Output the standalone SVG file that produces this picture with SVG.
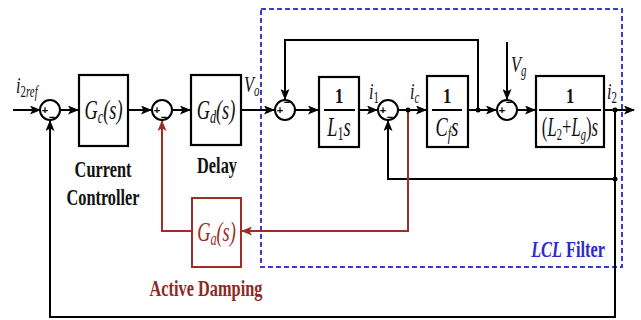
<svg xmlns="http://www.w3.org/2000/svg" width="641" height="320" viewBox="0 0 641 320">
<defs>
<marker id="ab" markerUnits="userSpaceOnUse" markerWidth="11" markerHeight="9" refX="10" refY="4.5" orient="auto"><path d="M0,0 L11,4.5 L0,9 L2.5,4.5 z" fill="#000"/></marker>
<marker id="ar" markerUnits="userSpaceOnUse" markerWidth="11" markerHeight="9" refX="10" refY="4.5" orient="auto"><path d="M0,0 L11,4.5 L0,9 L2.5,4.5 z" fill="#9b2f24"/></marker>
<style>
.ln{fill:none;stroke:#000;stroke-width:2}
.rl{fill:none;stroke:#9b2f24;stroke-width:2}
.box{fill:#fff;stroke:#000;stroke-width:2.2}
.rbox{fill:#fff;stroke:#9b2f24;stroke-width:2}
.sum{fill:#fff;stroke:#000;stroke-width:2}
.t{font-family:"Liberation Serif","DejaVu Serif",serif;font-weight:bold;font-size:24px;fill:#111}
.m{font-family:"Liberation Serif","DejaVu Serif",serif;font-style:italic;font-size:27px;fill:#111}
.lb{font-size:24px}
.one{font-family:"Liberation Serif","DejaVu Serif",serif;font-weight:bold;font-size:22px;fill:#111;text-anchor:middle}
.n{font-style:normal}
.op{font-family:"Liberation Sans",Arial,sans-serif;font-size:11px;font-weight:bold;fill:#000;text-anchor:middle}
.dot{fill:#000}
</style>
</defs>
<rect width="641" height="320" fill="#fff"/>

<!-- LCL filter boundary -->
<g id="lcl-boundary">
<rect x="261" y="9" width="361" height="258" fill="none" stroke="#3a3ad8" stroke-width="2" stroke-dasharray="5,3"/>
<text class="t" transform="translate(605 257) scale(0.68 1)" text-anchor="end" style="fill:#2a2ad0"><tspan font-style="italic">LCL</tspan> Filter</text>
</g>

<g id="connectors">
<path class="ln" d="M13,110 H40" marker-end="url(#ab)"/>
<path class="ln" d="M60,110 H78" marker-end="url(#ab)"/>
<path class="ln" d="M128,110 H151" marker-end="url(#ab)" stroke-width="2.6"/>
<path class="ln" d="M172,110 H190" marker-end="url(#ab)"/>
<path class="ln" d="M241,110 H274" marker-end="url(#ab)"/>
<path class="ln" d="M295,110 H318" marker-end="url(#ab)"/>
<path class="ln" d="M359,110 H377" marker-end="url(#ab)"/>
<path class="ln" d="M398,110 H426" marker-end="url(#ab)"/>
<path class="ln" d="M468,110 H496" marker-end="url(#ab)"/>
<path class="ln" d="M478,110 V40 H285 V99" marker-end="url(#ab)"/>
<path class="ln" d="M507,42 V99" marker-end="url(#ab)"/>
<path class="ln" d="M517,110 H535" marker-end="url(#ab)"/>
<path class="ln" d="M604,110 H634" marker-end="url(#ab)"/>
<path class="ln" d="M615,110 V317 H50 V121" marker-end="url(#ab)"/>
<path class="ln" d="M615,179 H388 V121" marker-end="url(#ab)"/>
<path class="rl" d="M408,110 V231 H242" marker-end="url(#ar)"/>
<path class="rl" d="M192,231 H162 V121" marker-end="url(#ar)"/>
<circle class="dot" cx="408" cy="110" r="2.5"/>
<circle class="dot" cx="478" cy="110" r="2.5"/>
<circle class="dot" cx="615" cy="110" r="2.5"/>
<circle class="dot" cx="615" cy="179" r="2.5"/>
</g>

<g id="labels">
<text class="m lb" transform="translate(16 93) scale(0.68 1)">i<tspan class="n" font-size="16" dy="4">2</tspan><tspan font-size="16">ref</tspan></text>
<text class="m lb" transform="translate(244 92) scale(0.68 1)">V<tspan font-size="16" dy="4">o</tspan></text>
<text class="m lb" transform="translate(369 99) scale(0.68 1)">i<tspan class="n" font-size="16" dy="4">1</tspan></text>
<text class="m lb" transform="translate(410 99) scale(0.68 1)">i<tspan font-size="16" dy="4">c</tspan></text>
<text class="m lb" transform="translate(511 72) scale(0.68 1)">V<tspan font-size="16" dy="4">g</tspan></text>
<text class="m lb" transform="translate(607 99) scale(0.68 1)">i<tspan class="n" font-size="16" dy="4">2</tspan></text>
</g>

<g id="sum1"><circle class="sum" cx="50" cy="110" r="10"/><text class="op" x="45" y="114">+</text><text class="op" x="52" y="121">−</text></g>
<g id="sum2"><circle class="sum" cx="162" cy="110" r="10"/><text class="op" x="157" y="114">+</text><text class="op" x="164" y="121">−</text></g>
<g id="sum3"><circle class="sum" cx="285" cy="110" r="10"/><text class="op" x="280" y="114">+</text><text class="op" x="287" y="106">−</text></g>
<g id="sum4"><circle class="sum" cx="388" cy="110" r="10"/><text class="op" x="383" y="114">+</text><text class="op" x="390" y="121">−</text></g>
<g id="sum5"><circle class="sum" cx="507" cy="110" r="10"/><text class="op" x="502" y="114">+</text><text class="op" x="509" y="106">−</text></g>

<g id="current-controller">
<rect class="box" x="79" y="75" width="49" height="71"/>
<text class="m" transform="translate(103.5 119) scale(0.68 1)" text-anchor="middle">G<tspan font-size="18" dy="4">c</tspan><tspan dy="-4">(s)</tspan></text>
<text class="t" transform="translate(103 177) scale(0.68 1)" text-anchor="middle">Current</text>
<text class="t" transform="translate(103 205) scale(0.68 1)" text-anchor="middle">Controller</text>
</g>

<g id="delay">
<rect class="box" x="191" y="75" width="50" height="70"/>
<text class="m" transform="translate(216 119) scale(0.68 1)" text-anchor="middle">G<tspan font-size="18" dy="4">d</tspan><tspan dy="-4">(s)</tspan></text>
<text class="t" transform="translate(217 173) scale(0.68 1)" text-anchor="middle">Delay</text>
</g>

<g id="active-damping">
<rect class="rbox" x="192" y="198" width="49" height="69"/>
<text class="m" transform="translate(216.5 241) scale(0.68 1)" text-anchor="middle" style="fill:#9b2f24">G<tspan font-size="18" dy="4">a</tspan><tspan dy="-4">(s)</tspan></text>
<text class="t" transform="translate(206 296) scale(0.68 1)" text-anchor="middle" style="fill:#8e2a20">Active Damping</text>
</g>

<g id="L1">
<rect class="box" x="319" y="77" width="40" height="70"/>
<text class="one" transform="translate(339 103) scale(0.75 1)">1</text>
<line x1="324" y1="110" x2="355" y2="110" stroke="#000" stroke-width="2"/>
<text class="m" transform="translate(339 136) scale(0.68 1)" text-anchor="middle">L<tspan class="n" font-size="18" dy="4">1</tspan><tspan dy="-4">s</tspan></text>
</g>

<g id="Cf">
<rect class="box" x="427" y="76" width="41" height="71"/>
<text class="one" transform="translate(447 103) scale(0.75 1)">1</text>
<line x1="432" y1="110" x2="462" y2="110" stroke="#000" stroke-width="2"/>
<text class="m" transform="translate(447 136) scale(0.68 1)" text-anchor="middle">C<tspan font-size="18" dy="4">f</tspan><tspan dy="-4">s</tspan></text>
</g>

<g id="L2Lg">
<rect class="box" x="536" y="76" width="68" height="71"/>
<text class="one" transform="translate(570 103) scale(0.75 1)">1</text>
<line x1="539" y1="110" x2="601" y2="110" stroke="#000" stroke-width="2"/>
<text class="m" transform="translate(570 136) scale(0.62 1)" text-anchor="middle" font-size="25"><tspan class="n">(</tspan>L<tspan class="n" font-size="17" dy="4">2</tspan><tspan class="n" dy="-4">+</tspan>L<tspan font-size="17" dy="4">g</tspan><tspan class="n" dy="-4">)</tspan>s</text>
</g>
</svg>
